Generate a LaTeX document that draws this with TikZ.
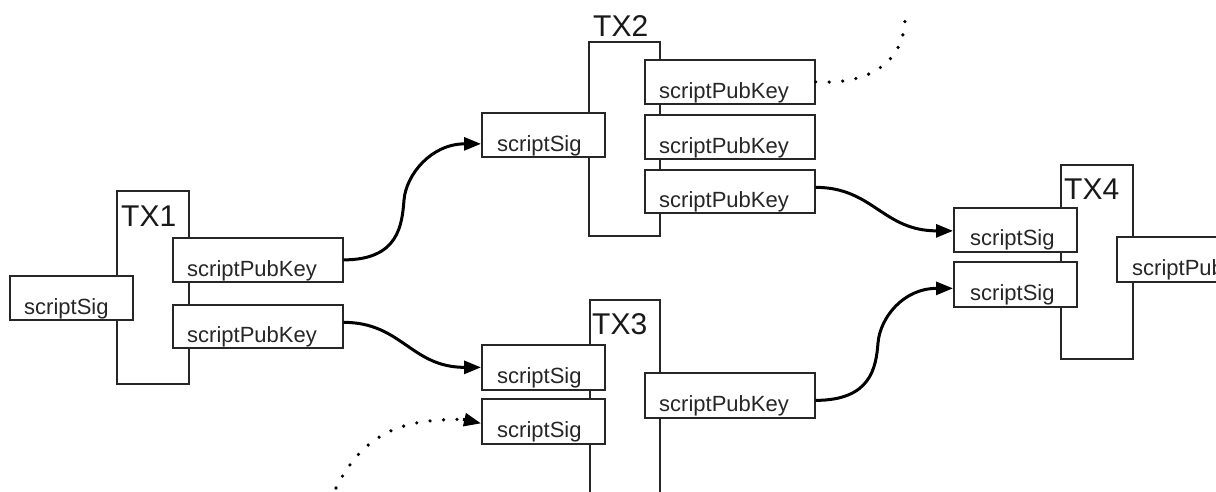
\documentclass[tikz,border=0pt]{standalone}
\usepackage{fontspec}
\setmainfont{Liberation Sans}
\usetikzlibrary{arrows.meta}
\begin{document}
\begin{tikzpicture}[x=1pt,y=-1pt,
  txbody/.style={draw=black!85, line width=1.7pt, anchor=north west, inner sep=0pt},
  field/.style={draw=black!85, fill=white, line width=1.7pt, anchor=north west,
    inner sep=0pt, minimum height=44pt},
  sigbox/.style={field, minimum width=123pt},
  pkbox/.style={field, minimum width=170pt},
  ftext/.style={anchor=base west, inner sep=0pt, text=black!85,
    font=\fontsize{22}{26}\selectfont},
  txname/.style={anchor=base west, inner sep=0pt, text=black!90,
    font=\fontsize{30}{34}\selectfont},
  link/.style={line width=3pt, -{Triangle[length=17pt,width=13pt]}},
  dotlink/.style={line width=3.6pt, line cap=round, dash pattern=on 0pt off 13.5pt},
]
\useasboundingbox (0,0) rectangle (1216,491);
\clip (0,0) rectangle (1216,491);

% transaction bodies
\node[txbody, minimum width=72pt, minimum height=193pt] (tx1) at (116,190) {};
\node[txbody, minimum width=71pt, minimum height=194pt] (tx2) at (588,41) {};
\node[txbody, minimum width=70pt, minimum height=230pt] (tx3) at (589,299) {};
\node[txbody, minimum width=72pt, minimum height=194pt] (tx4) at (1060,164) {};

\node[txname] (tx1name) at (121,226) {TX1};
\node[txname] (tx2name) at (593,36) {TX2};
\node[txname] (tx3name) at (592,334) {TX3};
\node[txname] (tx4name) at (1064,199) {TX4};

% TX1 fields
\node[sigbox] (s1) at (9,275) {};
\node[pkbox] (p1a) at (172,237) {};
\node[pkbox, minimum height=43pt] (p1b) at (172,304) {};
% TX2 fields
\node[sigbox] (s2) at (481,112) {};
\node[pkbox] (p2a) at (644,59) {};
\node[pkbox] (p2b) at (644,114) {};
\node[pkbox, minimum height=43pt] (p2c) at (644,169) {};
% TX3 fields
\node[sigbox, minimum height=45pt] (s3a) at (481,344) {};
\node[sigbox, minimum height=45pt] (s3b) at (481,398) {};
\node[pkbox, minimum height=45pt] (p3) at (644,372) {};
% TX4 fields
\node[sigbox] (s4a) at (953,207) {};
\node[sigbox, minimum height=45pt] (s4b) at (953,261) {};
\node[pkbox, minimum height=45pt] (p4) at (1116,236) {};

% field labels
\node[ftext] (s1t) at ([shift={(15,-6)}]s1.south west) {scriptSig};
\node[ftext] (p1at) at ([shift={(15,-6)}]p1a.south west) {scriptPubKey};
\node[ftext] (p1bt) at ([shift={(15,-6)}]p1b.south west) {scriptPubKey};
\node[ftext] (s2t) at ([shift={(16,-6)}]s2.south west) {scriptSig};
\node[ftext] (p2at) at ([shift={(15,-6)}]p2a.south west) {scriptPubKey};
\node[ftext] (p2bt) at ([shift={(15,-6)}]p2b.south west) {scriptPubKey};
\node[ftext] (p2ct) at ([shift={(15,-6)}]p2c.south west) {scriptPubKey};
\node[ftext] (s3at) at ([shift={(16,-7)}]s3a.south west) {scriptSig};
\node[ftext] (s3bt) at ([shift={(16,-7)}]s3b.south west) {scriptSig};
\node[ftext] (p3t) at ([shift={(15,-7)}]p3.south west) {scriptPubKey};
\node[ftext] (s4at) at ([shift={(17,-7)}]s4a.south west) {scriptSig};
\node[ftext] (s4bt) at ([shift={(17,-7)}]s4b.south west) {scriptSig};
\node[ftext] (p4t) at ([shift={(16,-7)}]p4.south west) {scriptPubKey};

% spends
\draw[link] (p1a.east) .. controls +(55,0) and +(-2,25) .. (404,200)
  .. controls +(2,-25) and +(-50,0) .. ([yshift=-9pt]s2.west);
\draw[link] ([yshift=4pt]p1b.east) .. controls +(58,0) and +(-70,0) .. (s3a.west);
\draw[link] ([yshift=4pt]p2c.east) .. controls +(57,0) and +(-70,0) .. ([yshift=-1pt]s4a.west);
\draw[link] ([yshift=-5pt]p3.east) .. controls +(55,0) and +(-2,25) .. (878,343)
  .. controls +(2,-25) and +(-50,0) .. ([yshift=-4pt]s4b.west);

% outputs spent elsewhere, inputs from elsewhere
\coordinate (outfar) at (905,20);
\coordinate (infar) at (336,488);
\draw[dotlink] (p2a.east) .. controls +(50,3) and +(-2,45) .. (outfar);
\draw[dotlink] (infar) .. controls +(30,-60) and +(-55,0) .. ([shift={(-18,-2)}]s3b.west);
\draw[line width=3pt, -{Triangle[length=17pt,width=13pt]}]
  ([shift={(-18,-2)}]s3b.west) -- ([yshift=-2pt]s3b.west);
\end{tikzpicture}
\end{document}
